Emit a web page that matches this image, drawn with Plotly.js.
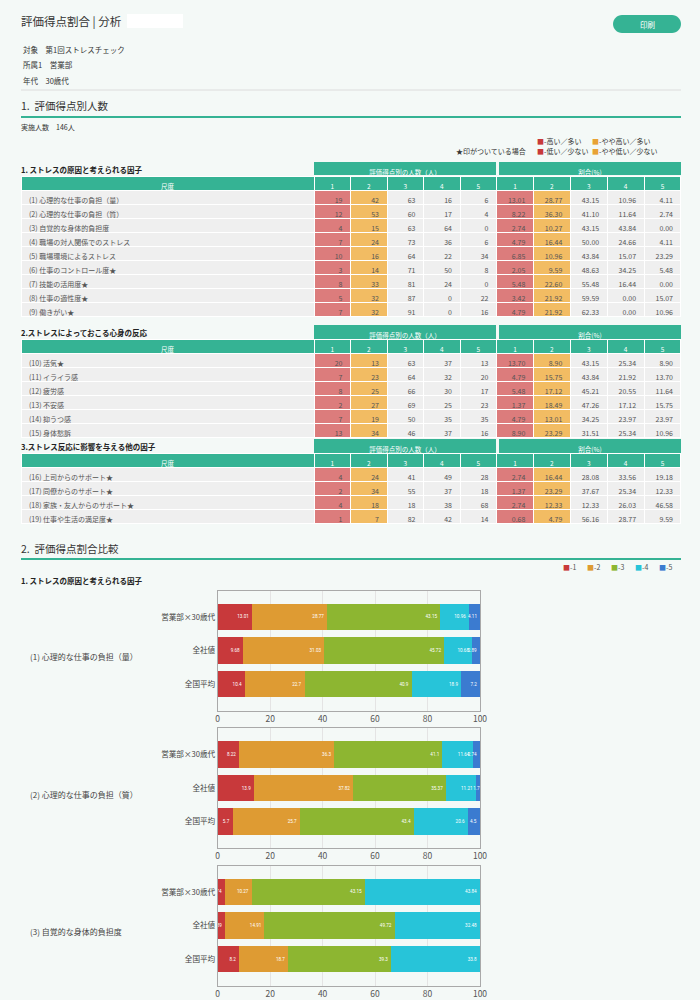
<!DOCTYPE html>
<html><head><meta charset="utf-8">
<script src="https://cdn.plot.ly/plotly-3.0.1.min.js"></script>
<style>html,body{margin:0;padding:0;background:#f4f9f7;}#page{width:700px;height:1000px;}</style>
</head><body><div id="page"></div>
<script>
// ---------------- DATA ----------------
const scoreLabels = ['1', '2', '3', '4', '5'];
const scaleHeader = '尺度';
const countGroupHeader = '評価得点別の人数（人）';
const pctGroupHeader = '割合(%)';

const table1Title = '1. ストレスの原因と考えられる因子';
const table1Labels = ['(1) 心理的な仕事の負担（量）', '(2) 心理的な仕事の負担（質）', '(3) 自覚的な身体的負担度',
  '(4) 職場の対人関係でのストレス', '(5) 職場環境によるストレス', '(6) 仕事のコントロール度★',
  '(7) 技能の活用度★', '(8) 仕事の適性度★', '(9) 働きがい★'];
const table1Counts = [[19, 42, 63, 16, 6], [12, 53, 60, 17, 4], [4, 15, 63, 64, 0], [7, 24, 73, 36, 6],
  [10, 16, 64, 22, 34], [3, 14, 71, 50, 8], [8, 33, 81, 24, 0], [5, 32, 87, 0, 22], [7, 32, 91, 0, 16]];
const table1Pcts = [[13.01, 28.77, 43.15, 10.96, 4.11], [8.22, 36.30, 41.10, 11.64, 2.74], [2.74, 10.27, 43.15, 43.84, 0.00],
  [4.79, 16.44, 50.00, 24.66, 4.11], [6.85, 10.96, 43.84, 15.07, 23.29], [2.05, 9.59, 48.63, 34.25, 5.48],
  [5.48, 22.60, 55.48, 16.44, 0.00], [3.42, 21.92, 59.59, 0.00, 15.07], [4.79, 21.92, 62.33, 0.00, 10.96]];

const table2Title = '2.ストレスによっておこる心身の反応';
const table2Labels = ['(10) 活気★', '(11) イライラ感', '(12) 疲労感', '(13) 不安感', '(14) 抑うつ感', '(15) 身体愁訴'];
const table2Counts = [[20, 13, 63, 37, 13], [7, 23, 64, 32, 20], [8, 25, 66, 30, 17], [2, 27, 69, 25, 23],
  [7, 19, 50, 35, 35], [13, 34, 46, 37, 16]];
const table2Pcts = [[13.70, 8.90, 43.15, 25.34, 8.90], [4.79, 15.75, 43.84, 21.92, 13.70], [5.48, 17.12, 45.21, 20.55, 11.64],
  [1.37, 18.49, 47.26, 17.12, 15.75], [4.79, 13.01, 34.25, 23.97, 23.97], [8.90, 23.29, 31.51, 25.34, 10.96]];

const table3Title = '3.ストレス反応に影響を与える他の因子';
const table3Labels = ['(16) 上司からのサポート★', '(17) 同僚からのサポート★', '(18) 家族・友人からのサポート★', '(19) 仕事や生活の満足度★'];
const table3Counts = [[4, 24, 41, 49, 28], [2, 34, 55, 37, 18], [4, 18, 18, 38, 68], [1, 7, 82, 42, 14]];
const table3Pcts = [[2.74, 16.44, 28.08, 33.56, 19.18], [1.37, 23.29, 37.67, 25.34, 12.33],
  [2.74, 12.33, 12.33, 26.03, 46.58], [0.68, 4.79, 56.16, 28.77, 9.59]];

const barCategories = ['営業部×30歳代', '全社値', '全国平均'];
const chartTitles = ['(1) 心理的な仕事の負担（量）', '(2) 心理的な仕事の負担（質）', '(3) 自覚的な身体的負担度'];
// each: [score1, score2, score3, score4, score5] across barCategories
const chart1Series = [[13.01, 9.68, 10.4], [28.77, 31.03, 22.7], [43.15, 45.72, 40.9], [10.96, 10.68, 18.9], [4.11, 2.89, 7.2]];
const chart2Series = [[8.22, 13.9, 5.7], [36.3, 37.82, 25.7], [41.1, 35.37, 43.4], [11.64, 11.21, 20.6], [2.74, 1.7, 4.5]];
const chart3Series = [[2.74, 2.89, 8.2], [10.27, 14.91, 18.7], [43.15, 49.72, 39.3], [43.84, 32.48, 33.8], [0, 0, 0]];
const barSeriesNames = ['-1', '-2', '-3', '-4', '-5'];

// ---------------- STYLE ----------------
const FONT = '"Noto Sans CJK JP", "Noto Sans", sans-serif';
const NARROW = '"Liberation Sans Narrow", "Roboto", sans-serif';
const GREEN = '#35b394';
const CELL_GRAY = '#efefef';
const CELL_RED = '#dc7c7c';
const CELL_ORANGE = '#f2bc63';
const BAR_COLORS = ['#c8393b', '#de9b33', '#8db631', '#27c4d9', '#3b7bd0'];
const BG = '#f4f9f7';

const X = px => px / 700;
const Y = py => 1 - py / 1000;

const traces = [];
const annotations = [];
const shapes = [];

function txt(text, x, y, size, opts) {
  opts = opts || {};
  annotations.push({
    text: text, x: X(x), y: Y(y), xref: 'paper', yref: 'paper', showarrow: false,
    xanchor: opts.xanchor || 'left', yanchor: 'middle',
    font: {family: FONT, size: size, color: opts.color || '#333', weight: opts.weight || 'normal'},
    borderpad: 0
  });
}

// ---------------- HEADER ----------------
txt('評価得点割合 | 分析', 20, 21, 11.5, {color: '#333'});
shapes.push({type: 'rect', xref: 'paper', yref: 'paper', x0: X(127), x1: X(183), y0: Y(28), y1: Y(14),
  fillcolor: '#ffffff', line: {width: 0}});
// print button (pill)
(function () {
  const x1 = 613, x2 = 681, y1 = 15, y2 = 33, r = 9, k = r * 0.5523;
  const p = `M ${X(x1 + r)},${Y(y1)} L ${X(x2 - r)},${Y(y1)} C ${X(x2 - r + k)},${Y(y1)} ${X(x2)},${Y(y1 + r - k)} ${X(x2)},${Y(y1 + r)} ` +
    `C ${X(x2)},${Y(y2 - r + k)} ${X(x2 - r + k)},${Y(y2)} ${X(x2 - r)},${Y(y2)} L ${X(x1 + r)},${Y(y2)} ` +
    `C ${X(x1 + r - k)},${Y(y2)} ${X(x1)},${Y(y2 - r + k)} ${X(x1)},${Y(y1 + r)} C ${X(x1)},${Y(y1 + r - k)} ${X(x1 + r - k)},${Y(y1)} ${X(x1 + r)},${Y(y1)} Z`;
  shapes.push({type: 'path', xref: 'paper', yref: 'paper', path: p, fillcolor: GREEN, line: {width: 0}});
})();
txt('印刷', 647, 24, 7.5, {xanchor: 'center', color: '#ffffff'});

txt('対象　第1回ストレスチェック', 22, 49, 7.5);
txt('所属1　営業部', 22, 65, 7.5);
txt('年代　30歳代', 22, 81, 7.5);
shapes.push({type: 'line', xref: 'paper', yref: 'paper', x0: X(21), x1: X(681), y0: Y(90), y1: Y(90), line: {color: '#dcdcdc', width: 1}});

txt('1.  評価得点別人数', 20, 106, 10.5, {color: '#333'});
shapes.push({type: 'line', xref: 'paper', yref: 'paper', x0: X(21), x1: X(681), y0: Y(117), y1: Y(117), line: {color: GREEN, width: 2}});
txt('実施人数　146人', 20, 127, 7);

// table legend
txt('<span style="color:#c8393b">■</span>-高い／多い', 536, 141, 7);
txt('<span style="color:#e8a235">■</span>-やや高い／多い', 591, 141, 7);
txt('★印がついている場合', 527, 151, 7, {xanchor: 'right'});
txt('<span style="color:#c8393b">■</span>-低い／少ない', 536, 151, 7);
txt('<span style="color:#e8a235">■</span>-やや低い／少ない', 591, 151, 7);

// ---------------- TABLES ----------------
function addTable(title, labels, counts, pcts, top) {
  const rowH = 14;
  txt(title, 20, top + 7.5, 7.5, {weight: 'bold', color: '#222'});
  const groupHdr = (text, x0, x1) => traces.push({
    type: 'table', domain: {x: [X(x0), X(x1)], y: [Y(top + 14), Y(top)]},
    header: {values: [text], fill: {color: GREEN}, line: {color: GREEN, width: 0}, align: 'center',
      font: {family: FONT, size: 6.5, color: '#ffffff'}, height: rowH},
    cells: {values: [[]]}
  });
  groupHdr(countGroupHeader, 314, 497);
  groupHdr(pctGroupHeader, 499, 681);

  const cols = [labels];
  for (let j = 0; j < 5; j++) cols.push(counts.map(r => String(r[j])));
  for (let j = 0; j < 5; j++) cols.push(pcts.map(r => r[j].toFixed(2)));
  const fills = [CELL_GRAY, CELL_RED, CELL_ORANGE, CELL_GRAY, CELL_GRAY, CELL_GRAY,
    CELL_RED, CELL_ORANGE, CELL_GRAY, CELL_GRAY, CELL_GRAY];
  const bottom = top + 14 + rowH * (labels.length + 1) + 4;
  traces.push({
    type: 'table',
    domain: {x: [X(21), X(681)], y: [Y(bottom), Y(top + 14)]},
    columnwidth: [293, 36.5, 36.5, 36.5, 36.5, 36.5, 36.9, 36.9, 36.9, 36.9, 36.9],
    header: {values: [scaleHeader].concat(scoreLabels, scoreLabels), fill: {color: GREEN},
      line: {color: '#ffffff', width: 1}, align: 'center',
      font: {family: FONT, size: 6.5, color: '#ffffff'}, height: rowH},
    cells: {values: cols, fill: {color: fills}, line: {color: '#ffffff', width: 1},
      align: ['left', 'right', 'right', 'right', 'right', 'right', 'right', 'right', 'right', 'right', 'right'],
      font: {family: FONT, size: 7, color: '#555'}, height: rowH}
  });
}
addTable(table1Title, table1Labels, table1Counts, table1Pcts, 162);
addTable(table2Title, table2Labels, table2Counts, table2Pcts, 325);
addTable(table3Title, table3Labels, table3Counts, table3Pcts, 439);

// ---------------- SECTION 2 ----------------
txt('2.  評価得点割合比較', 20, 548, 10.5, {color: '#333'});
shapes.push({type: 'line', xref: 'paper', yref: 'paper', x0: X(21), x1: X(681), y0: Y(559), y1: Y(559), line: {color: GREEN, width: 2}});
const legX = [562, 586, 610, 634, 658];
barSeriesNames.forEach((n, i) => txt(`<span style="color:${BAR_COLORS[i]}">■</span>${n}`, legX[i], 567, 7, {color: '#555'}));
txt('1. ストレスの原因と考えられる因子', 20, 580, 7.5, {weight: 'bold', color: '#222'});

const allCharts = [chart1Series, chart2Series, chart3Series];
const layoutAxes = {};
allCharts.forEach((series, c) => {
  const top = 590.5 + 137.5 * c;
  const bottom = top + 120;
  const xa = c === 0 ? 'x' : 'x' + (c + 1);
  const ya = c === 0 ? 'y' : 'y' + (c + 1);
  series.forEach((vals, s) => {
    traces.push({
      type: 'bar', orientation: 'h', x: vals, y: barCategories, xaxis: xa, yaxis: ya,
      name: barSeriesNames[s], marker: {color: BAR_COLORS[s], line: {width: 0}},
      text: vals.map(v => v ? String(v) : ''), textposition: 'inside', insidetextanchor: 'end',
      textangle: 0, constraintext: 'none', textfont: {family: NARROW, size: 4.6, color: '#ffffff'},
      hoverinfo: 'skip', showlegend: false
    });
  });
  layoutAxes[c === 0 ? 'xaxis' : 'xaxis' + (c + 1)] = {
    domain: [X(217.7), X(480)], anchor: ya, range: [0, 100], dtick: 20, showgrid: true, gridcolor: '#e4e4e4',
    showline: true, mirror: true, linecolor: '#a9a9a9', linewidth: 1, zeroline: false, ticks: '', ticklen: 0,
    tickfont: {family: FONT, size: 8.5, color: '#555'}, fixedrange: true
  };
  layoutAxes[c === 0 ? 'yaxis' : 'yaxis' + (c + 1)] = {
    domain: [Y(bottom), Y(top)], anchor: xa, type: 'category', categoryorder: 'array', categoryarray: barCategories,
    range: [2.79, -0.79], showgrid: false, showline: true, mirror: true, linecolor: '#a9a9a9', linewidth: 1,
    ticks: '', ticklen: 0, ticklabelstandoff: 0, tickfont: {family: FONT, size: 7.6, color: '#444'}, fixedrange: true
  };
  txt(chartTitles[c], 29, top + 66, 8, {color: '#444'});
});

const layout = Object.assign({
  width: 700, height: 1000, margin: {l: 0, r: 0, t: 0, b: 0},
  paper_bgcolor: BG, plot_bgcolor: 'rgba(0,0,0,0)',
  barmode: 'stack', bargap: 0.2, showlegend: false,
  font: {family: FONT},
  annotations: annotations, shapes: shapes
}, layoutAxes);

Plotly.newPlot('page', traces, layout, {displayModeBar: false, staticPlot: true});
</script>
</body></html>
